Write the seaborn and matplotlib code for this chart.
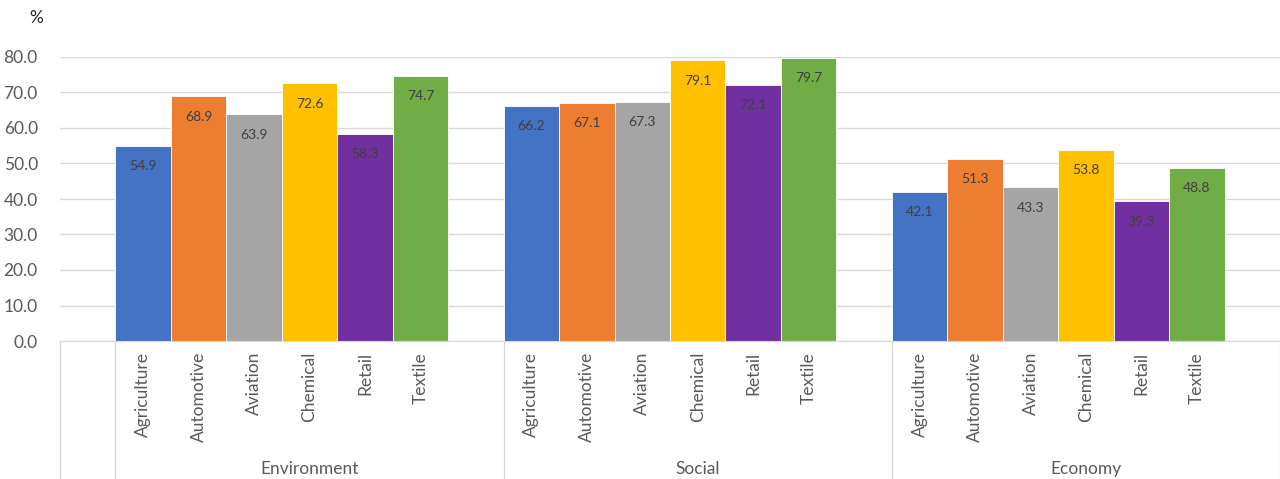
import matplotlib
matplotlib.use("Agg")
import matplotlib.pyplot as plt
import matplotlib.transforms as mtransforms
import pandas as pd
import seaborn as sns

groups = ["Environment", "Social", "Economy"]
sectors = ["Agriculture", "Automotive", "Aviation", "Chemical", "Retail", "Textile"]
environment = [54.9, 68.9, 63.9, 72.6, 58.3, 74.7]
social = [66.2, 67.1, 67.3, 79.1, 72.1, 79.7]
economy = [42.1, 51.3, 43.3, 53.8, 39.3, 48.8]
colors = ["#4472C4", "#ED7D31", "#A5A5A5", "#FFC000", "#7030A0", "#70AD47"]

# excel-style layout: one empty slot before the first group and after each group
order = ["blank0"]
rows = []
for g, vals in zip(groups, [environment, social, economy]):
    for s, v in zip(sectors, vals):
        key = f"{g}|{s}"
        order.append(key)
        rows.append({"slot": key, "sector": s, "group": g, "value": v})
    order.append(f"blank_{g}")
df = pd.DataFrame(rows)

sns.set_style("white")
plt.rcParams["font.family"] = ["Lato", "DejaVu Sans"]

fig = plt.figure(figsize=(12.8, 4.79), dpi=100)
ax = fig.add_axes([60 / 1280, 1 - 341 / 479, 1220 / 1280, (341 - 57) / 479])

sns.barplot(data=df, x="slot", y="value", hue="sector", order=order,
            hue_order=sectors, palette=colors, saturation=1, dodge=False, width=1.0,
            edgecolor="white", linewidth=0.6, legend=False, ax=ax)

for cont in ax.containers:
    ax.bar_label(cont, fmt="%.1f", padding=-19, fontsize=10, color="#404040")

ax.set_xlim(-0.5, len(order) - 0.5)
ax.set_ylim(0, 80)
ax.set_yticks(range(0, 81, 10))
ax.set_yticklabels([f"{v:.1f}" for v in range(0, 81, 10)], fontsize=12.5, color="#595959")
ax.tick_params(axis="y", length=0, pad=16)
ax.yaxis.grid(True, color="#D9D9D9", linewidth=1)
ax.set_axisbelow(True)
for sp in ["top", "right", "left"]:
    ax.spines[sp].set_visible(False)
ax.spines["bottom"].set_color("#D9D9D9")

ax.set_xticks(range(len(order)))
ax.set_xticklabels(["" if o.startswith("blank") else o.split("|")[1] for o in order],
                   rotation=90, fontsize=12.5, color="#595959")
ax.tick_params(axis="x", length=0, pad=8)
ax.set_xlabel("")
ax.set_ylabel("")

trans = mtransforms.blended_transform_factory(ax.transData, ax.transAxes)
depth = -(479 - 341) / (341 - 57)
for b in [-0.5, 0.5, 7.5, 14.5, 21.5]:
    ax.plot([b, b], [0, depth], transform=trans, color="#D9D9D9", lw=1, clip_on=False)
for i, g in enumerate(groups):
    ax.text(4.0 + 7 * i, -(469 - 341) / (341 - 57), g, transform=trans,
            ha="center", va="center", fontsize=12.5, color="#595959")

fig.text(36 / 1280, 1 - 18 / 479, "%", ha="center", va="center", fontsize=12.5, color="#262626")

fig.savefig("out.png", dpi=100)
